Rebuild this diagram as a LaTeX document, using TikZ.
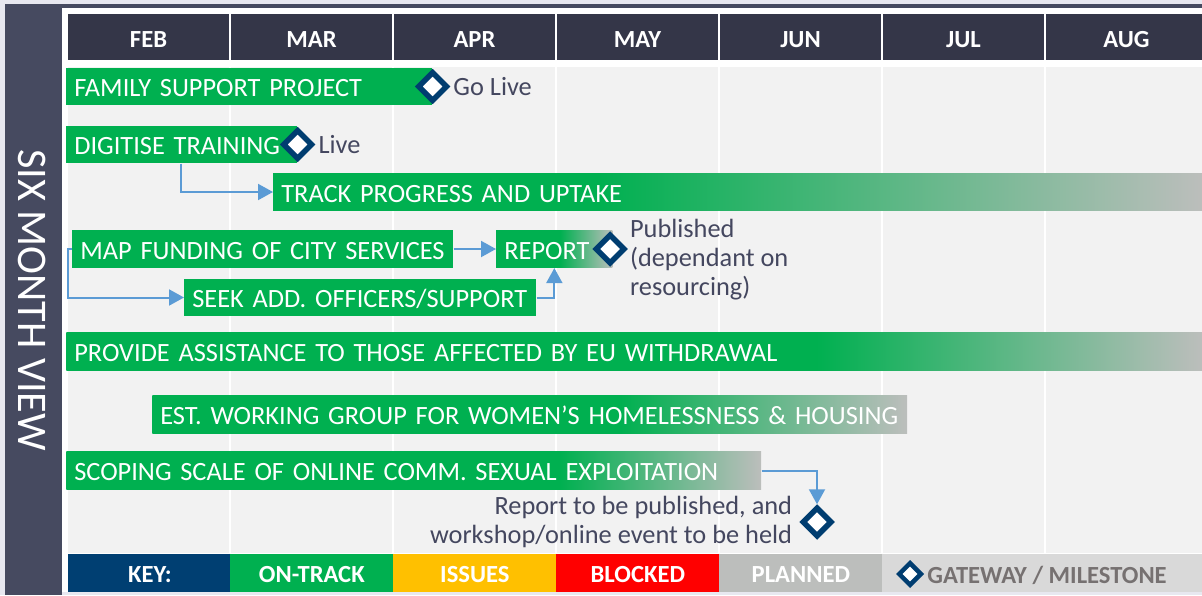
\documentclass[tikz,border=0pt]{standalone}
\usepackage{fontspec}
\setmainfont{Carlito}
\usetikzlibrary{positioning, shapes.geometric, arrows.meta}
\definecolor{outer}{RGB}{232, 232, 240}
\definecolor{sidebar}{RGB}{70, 74, 96}
\definecolor{header}{RGB}{52, 54, 72}
\definecolor{colbody}{RGB}{242, 242, 242}
\definecolor{ongreen}{RGB}{0, 176, 80}
\definecolor{planned}{RGB}{188, 190, 188}
\definecolor{keynavy}{RGB}{0, 63, 114}
\definecolor{issues}{RGB}{255, 192, 0}
\definecolor{blocked}{RGB}{255, 0, 0}
\definecolor{gatebg}{RGB}{217, 217, 217}
\definecolor{gatetext}{RGB}{118, 113, 113}
\definecolor{milestone}{RGB}{0, 61, 112}
\definecolor{linkblue}{RGB}{91, 155, 213}
\definecolor{notetext}{RGB}{68, 71, 95}
% green bar fading to grey, starting at #2 (25bp = left end, 75bp = right end)
\newcommand\fadeshading[2]{\pgfdeclarehorizontalshading{#1}{100bp}{color(0bp)=(ongreen); color(#2bp)=(ongreen); color(75bp)=(planned); color(100bp)=(planned)}}
\fadeshading{fadetrack}{42.5}
\fadeshading{fadereport}{52.5}
\fadeshading{fadeassist}{58}
\fadeshading{fadewomen}{56}
\fadeshading{fadescoping}{60.5}

\begin{document}
\begin{tikzpicture}[x=0.02cm, y=-0.02cm,
    bar/.style={fill=ongreen, text=white, anchor=west, text width=#1, align=left,
      minimum height=0.75cm, inner xsep=0.16cm, inner ysep=0pt,
      text height=11.9pt, text depth=0pt, font=\fontsize{15}{17}\selectfont},
    fadeto/.style={shade, shading=#1},
    month/.style={fill=header, text=white, minimum width=3.22cm, minimum height=0.92cm,
      inner sep=0pt, text height=11.9pt, text depth=0pt, font=\fontsize{14}{16}\bfseries},
    keycell/.style={text=white, anchor=west, minimum width=3.26cm, minimum height=0.76cm,
      inner sep=0pt, text height=11pt, text depth=0pt, font=\fontsize{14}{16}\bfseries},
    mile/.style={diamond, draw=milestone, fill=white, line width=0.11cm,
      minimum width=0.6cm, minimum height=0.6cm, inner sep=0pt},
    note/.style={text=notetext, inner sep=1pt, font=\fontsize{15}{16.5}\selectfont},
    link/.style={draw=linkblue, line width=0.04cm, -{Triangle[length=0.3cm, width=0.32cm]}}]
  \clip (0, 0) rectangle (1202, 595);
  \fill[outer] (0, 0) rectangle (1202, 595);
  \fill[white] (62, 8) rectangle (1202, 592);
  \fill[sidebar] (5, 4) rectangle (62, 595);
  \fill[sidebar] (5, 4) rectangle (1202, 8);
  \node[rotate=-90, text=white, font=\fontsize{24}{26}\selectfont] (side) at (32, 300) {SIX MONTH VIEW};

  % month columns
  \foreach \m [count=\i from 0] in {FEB, MAR, APR, MAY, JUN, JUL, AUG} {
    \fill[colbody] ({68 + 163 * \i}, 67) rectangle ({229 + 163 * \i}, 553);
    \node[month] (m\i) at ({148.5 + 163 * \i}, 37) {\m};
  }

  % activities
  \node[bar=7.0cm] (family) at (66, 86.5) {FAMILY SUPPORT PROJECT};
  \node[bar=4.3cm] (digitise) at (66, 144.5) {DIGITISE TRAINING};
  \node[bar=18.26cm, fadeto=fadetrack] (track) at (273, 192) {TRACK PROGRESS AND UPTAKE};
  \node[bar=7.3cm] (mapfund) at (72, 249) {MAP FUNDING OF CITY SERVICES};
  \node[bar=2.0cm, fadeto=fadereport] (report) at (496, 249) {REPORT};
  \node[bar=6.72cm] (seek) at (184, 297.5) {SEEK ADD. OFFICERS/SUPPORT};
  \node[bar=22.4cm, fadeto=fadeassist] (assist) at (66, 351.5) {PROVIDE ASSISTANCE TO THOSE AFFECTED BY EU WITHDRAWAL};
  \node[bar=14.78cm, fadeto=fadewomen] (women) at (152, 414.5) {EST. WORKING GROUP FOR WOMEN’S HOMELESSNESS \& HOUSING};
  \node[bar=13.58cm, fadeto=fadescoping] (scoping) at (66, 470.5) {SCOPING SCALE OF ONLINE COMM. SEXUAL EXPLOITATION};

  % milestones
  \node[mile] (golive) at (family.east) {};
  \node[note, right=0.02cm of golive] (golivetxt) {Go Live};
  \node[mile] (live) at (digitise.east) {};
  \node[note, right=0.02cm of live] (livetxt) {Live};
  \node[mile] (published) at ([xshift=-0.05cm]report.east) {};
  \node[note, anchor=west, align=left] (publishedtxt) at ([yshift=-0.22cm]published.east) {Published\\(dependant on\\resourcing)};
  \node[mile] (event) at (817, 522) {};
  \node[note, align=right, left=0.1cm of event] (eventtxt) {Report to be published, and\\workshop/online event to be held};

  % links
  \draw[link] ([xshift=2.3cm]digitise.south west) |- (track.west);
  \draw[link] (mapfund.east) -- (report.west);
  \draw[link] (mapfund.west) -- ++(-4, 0) |- (seek.west);
  \draw[link] (seek.east) -| (report.south);
  \draw[link] (scoping.east) -| (event.north);

  % key
  \foreach \x/\c/\t/\n in {68/keynavy/KEY:/key, 230/ongreen/ON-TRACK/ontrack, 393/issues/ISSUES/issue, 556/blocked/BLOCKED/block, 719/planned/PLANNED/plan} {
    \node[keycell, fill=\c] (\n) at (\x, 573) {\t};
  }
  \node[keycell, fill=gatebg, minimum width=6.4cm] (gate) at (882, 573) {};
  \node[mile, line width=0.09cm, minimum width=0.47cm, minimum height=0.47cm] (gatemile) at (910, 574) {};
  \node[right=0.06cm of gatemile, text=gatetext, inner sep=0pt, text height=11pt, text depth=0pt, font=\fontsize{14}{16}\bfseries] (gatetxt) {GATEWAY / MILESTONE};
\end{tikzpicture}
\end{document}
